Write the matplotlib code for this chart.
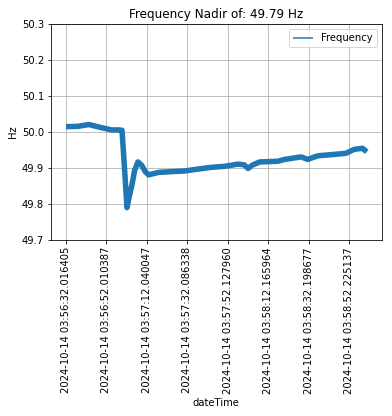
import matplotlib
matplotlib.use("Agg")
import matplotlib.pyplot as plt

# --- Dados (índice da amostra, frequência em Hz) ---
sample_idx = [0, 300, 565, 885, 1130, 1302, 1383, 1445, 1506, 1560, 1629, 1695,
              1776, 1867, 1958, 2039, 2285, 2600, 2941, 3187, 3587, 3924, 4251,
              4400, 4496, 4600, 4784, 5233, 5398, 5806, 5971, 6216, 6626, 6912,
              7118, 7322, 7428]
freq_hz = [50.015, 50.016, 50.021, 50.012, 50.006, 50.006, 50.005, 49.90, 49.79,
           49.82, 49.853, 49.894, 49.917, 49.908, 49.890, 49.881, 49.888, 49.890,
           49.892, 49.896, 49.902, 49.905, 49.911, 49.909, 49.899, 49.908, 49.917,
           49.919, 49.924, 49.931, 49.924, 49.934, 49.938, 49.941, 49.952, 49.955,
           49.945]

tick_pos = [0, 1000, 2000, 3000, 4000, 5000, 6000, 7000]
tick_labels = ['2024-10-14 03:56:32.016405', '2024-10-14 03:56:52.010387',
               '2024-10-14 03:57:12.040047', '2024-10-14 03:57:32.086338',
               '2024-10-14 03:57:52.127960', '2024-10-14 03:58:12.165964',
               '2024-10-14 03:58:32.198677', '2024-10-14 03:58:52.225137']

nadir = min(freq_hz)

fig, ax = plt.subplots(figsize=(392 / 72, 416 / 72), dpi=72)
fig.subplots_adjust(left=0.130, right=0.974, top=0.942, bottom=0.423)

# linha grossa para imitar a faixa de ruído do sinal original
ax.plot(sample_idx, freq_hz, color='#1f77b4', linewidth=5.5,
        solid_joinstyle='round', solid_capstyle='butt', label='Frequency')
ax.set_ylim(49.7, 50.3)
ax.set_yticks([49.7, 49.8, 49.9, 50.0, 50.1, 50.2, 50.3])
ax.set_xticks(tick_pos)
ax.set_xticklabels(tick_labels, rotation=90)
ax.set_xlabel('dateTime')
ax.set_ylabel('Hz')
ax.set_title(f'Frequency Nadir of: {nadir:.2f} Hz')
ax.grid(True)

leg = ax.legend(loc='upper right')
leg.legend_handles[0].set_linewidth(1.5)

fig.savefig('out.png', dpi=72)
